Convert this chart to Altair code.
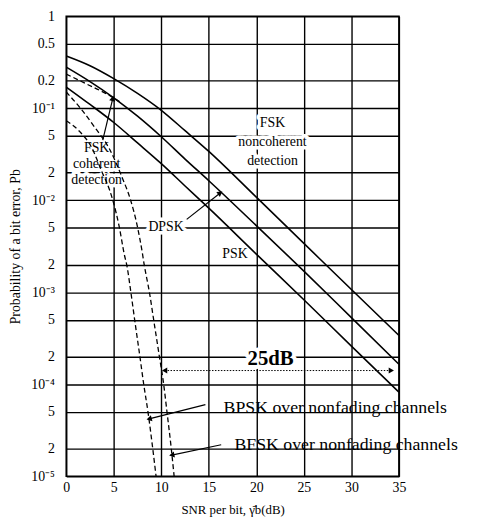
import json
import altair as alt
import pandas as pd

# ---------------- values ----------------
snr_db = [0, 2.5, 5, 7.5, 10, 12.5, 15, 20, 25, 30, 35]
fsk_noncoherent = [0.37, 0.29, 0.21, 0.145, 0.095, 0.057, 0.034, 0.0108, 0.0034, 0.00107, 0.00034]
dpsk = [0.28, 0.195, 0.13, 0.082, 0.049, 0.028, 0.0163, 0.0053, 0.0017, 0.00053, 0.000165]
psk = [0.17, 0.11, 0.07, 0.042, 0.025, 0.0143, 0.0082, 0.0026, 0.00083, 0.00026, 0.000082]

fsk_coherent_snr = [0, 1.2, 2.4, 3.6, 4.8, 5.6]
fsk_coherent_pb = [0.235, 0.205, 0.178, 0.155, 0.133, 0.118]

bpsk_awgn_snr = [0, 1.4, 2.7, 3.7, 4.55, 4.9, 5.6, 6.1, 6.4, 6.8, 7.2, 7.75, 8.15, 8.6, 9.1, 9.45]
bpsk_awgn_pb = [0.073, 0.056, 0.037, 0.021, 0.013, 0.01, 0.005, 0.0026, 0.0019, 0.001,
                0.0005, 0.0002, 0.0001, 5e-5, 2e-5, 1e-5]

bfsk_awgn_snr = [0, 1.5, 3.0, 4.55, 5.9, 6.75, 7.5, 8.0, 8.2, 8.75, 9.2, 9.8, 10.25, 10.6, 11.05, 11.35]
bfsk_awgn_pb = [0.15, 0.1, 0.062, 0.036, 0.0175, 0.0102, 0.0051, 0.0027, 0.002, 0.001,
                0.0005, 0.0002, 0.0001, 5e-5, 2e-5, 1e-5]

x_ticks = [0, 5, 10, 15, 20, 25, 30, 35]
y_ticks = [1, 0.5, 0.2, 0.1, 0.05, 0.02, 0.01, 0.005, 0.002, 0.001,
           5e-4, 2e-4, 1e-4, 5e-5, 2e-5, 1e-5]
y_tick_labels = ["1", "0.5", "0.2", "10\u207b\u00b9", "5", "2", "10\u207b\u00b2", "5", "2",
                 "10\u207b\u00b3", "5", "2", "10\u207b\u2074", "5", "2", "10\u207b\u2075"]

# annotation texts (positions in data units)
note_text = ["FSK", "coherent", "detection", "FSK", "noncoherent", "detection", "DPSK", "PSK"]
note_snr = [3.2, 3.2, 3.2, 21.7, 21.7, 21.7, 10.5, 17.75]
note_pb = [0.0367, 0.0247, 0.0167, 0.069, 0.0425, 0.027, 0.0051, 0.0026]

span_text = ["25dB"]
span_snr = [21.5]
span_pb = [1.87e-4]

channel_text = ["BPSK over nonfading channels", "BFSK over nonfading channels"]
channel_snr = [16.55, 17.7]
channel_pb = [4.9e-5, 1.95e-5]

# pointer arrows: start -> tip, with head angle
arrow_snr = [3.84, 12.67, 14.64, 16.3]
arrow_pb = [0.045, 0.0062, 6.0e-5, 2.2e-5]
arrow_snr2 = [4.9, 16.2, 8.72, 11.1]
arrow_pb2 = [0.128, 0.012, 4.2e-5, 1.7e-5]
arrow_angle = [14, 54, 255, 259]

# dotted 25 dB span
span_from = 10.35
span_to = 34.2
span_level = 1.41e-4

# ---------------- tables ----------------
rows = []
for name, xs, ys in [("FSK noncoherent", snr_db, fsk_noncoherent),
                     ("DPSK", snr_db, dpsk),
                     ("PSK", snr_db, psk)]:
    for a, b in zip(xs, ys):
        rows.append({"series": name, "snr": a, "pb": b})
solid_df = pd.DataFrame(rows)

rows = []
for name, xs, ys in [("FSK coherent", fsk_coherent_snr, fsk_coherent_pb),
                     ("BPSK AWGN", bpsk_awgn_snr, bpsk_awgn_pb),
                     ("BFSK AWGN", bfsk_awgn_snr, bfsk_awgn_pb)]:
    for a, b in zip(xs, ys):
        rows.append({"series": name, "snr": a, "pb": b})
dashed_df = pd.DataFrame(rows)

note_df = pd.DataFrame({"snr": note_snr, "pb": note_pb, "text": note_text})
span_df = pd.DataFrame({"snr": span_snr, "pb": span_pb, "text": span_text})
channel_df = pd.DataFrame({"snr": channel_snr, "pb": channel_pb, "text": channel_text})
arrow_df = pd.DataFrame({"snr": arrow_snr, "pb": arrow_pb, "snr2": arrow_snr2,
                         "pb2": arrow_pb2, "angle": arrow_angle})
span_line_df = pd.DataFrame({"snr": [span_from], "snr2": [span_to], "pb": [span_level]})
span_head_df = pd.DataFrame({"snr": [span_from, span_to], "pb": [span_level, span_level],
                             "angle": [270, 90]})

# ---------------- scales / axes ----------------
FONT = "Liberation Serif"
x_scale = alt.Scale(domain=[0, 35], nice=False, zero=False)
y_scale = alt.Scale(type="log", domain=[1e-5, 1], nice=False)

label_expr = "{}[indexof({}, datum.value)]".format(
    json.dumps(y_tick_labels, ensure_ascii=False), json.dumps(y_ticks))

x_axis = alt.Axis(values=x_ticks, title="SNR per bit, \u03b3\u0304b(dB)", grid=True,
                  ticks=False, domain=False, gridColor="black", gridWidth=1.4, gridOpacity=1,
                  labelFont=FONT, labelFontSize=14, labelColor="black", labelPadding=4,
                  labelFlush=False, titleFont=FONT, titleFontSize=13,
                  titleFontWeight="normal", titleColor="black", titlePadding=10)
y_axis = alt.Axis(values=y_ticks, labelExpr=label_expr,
                  title="Probability of a bit error, Pb", grid=True, ticks=False,
                  domain=False, gridColor="black", gridWidth=1.4, gridOpacity=1,
                  labelFont=FONT, labelFontSize=14, labelColor="black", labelPadding=12,
                  labelFlush=False, titleFont=FONT, titleFontSize=14,
                  titleFontWeight="normal", titleColor="black", titlePadding=8)


def X(field="snr"):
    return alt.X(f"{field}:Q", scale=x_scale, axis=x_axis)


def Y(field="pb"):
    return alt.Y(f"{field}:Q", scale=y_scale, axis=y_axis)


# ---------------- layers ----------------
halo = alt.Chart(note_df).mark_text(font=FONT, fontSize=14, fill="white", stroke="white",
                                    strokeWidth=7, strokeJoin="round").encode(
    x=X(), y=Y(), text="text:N")

solid = alt.Chart(solid_df).mark_line(color="black", strokeWidth=1.6,
                                      interpolate="monotone").encode(
    x=X(), y=Y(), detail="series:N")

dashed = alt.Chart(dashed_df).mark_line(color="black", strokeWidth=1.3, strokeDash=[5, 3],
                                        interpolate="monotone").encode(
    x=X(), y=Y(), detail="series:N")

arrows = alt.Chart(arrow_df).mark_rule(color="black", strokeWidth=1.2).encode(
    x=X(), y=Y(), x2="snr2:Q", y2="pb2:Q")

heads = alt.Chart(arrow_df).mark_point(shape="triangle-up", filled=True, color="black",
                                       size=38, opacity=1).encode(
    x=X("snr2"), y=Y("pb2"), angle=alt.Angle("angle:Q", scale=None))

span_line = alt.Chart(span_line_df).mark_rule(color="black", strokeWidth=1,
                                              strokeDash=[1.5, 1.5]).encode(
    x=X(), x2="snr2:Q", y=Y())

span_heads = alt.Chart(span_head_df).mark_point(shape="triangle-up", filled=True,
                                                color="black", size=38, opacity=1).encode(
    x=X(), y=Y(), angle=alt.Angle("angle:Q", scale=None))

span_halo = alt.Chart(span_df).mark_text(font=FONT, fontSize=21, fontWeight="bold",
                                         fill="white", stroke="white", strokeWidth=8,
                                         strokeJoin="round").encode(
    x=X(), y=Y(), text="text:N")

span_label = alt.Chart(span_df).mark_text(font=FONT, fontSize=21, fontWeight="bold",
                                          color="black").encode(
    x=X(), y=Y(), text="text:N")

notes = alt.Chart(note_df).mark_text(font=FONT, fontSize=14, color="black").encode(
    x=X(), y=Y(), text="text:N")

channels = alt.Chart(channel_df).mark_text(font=FONT, fontSize=18, color="black",
                                           align="left", baseline="alphabetic").encode(
    x=X(), y=Y(), text="text:N")

chart = alt.layer(
    halo, solid, dashed, arrows, heads, span_line, span_heads, span_halo,
    span_label, notes, channels
).properties(
    width=337, height=466,
    autosize=alt.AutoSizeParams(type="none"),
    padding={"left": 59, "top": 5, "right": 72, "bottom": 45},
    background="white",
).configure_view(stroke="black", strokeWidth=1.6)

chart.save("out.html", embed_options={"renderer": "svg", "actions": False})
